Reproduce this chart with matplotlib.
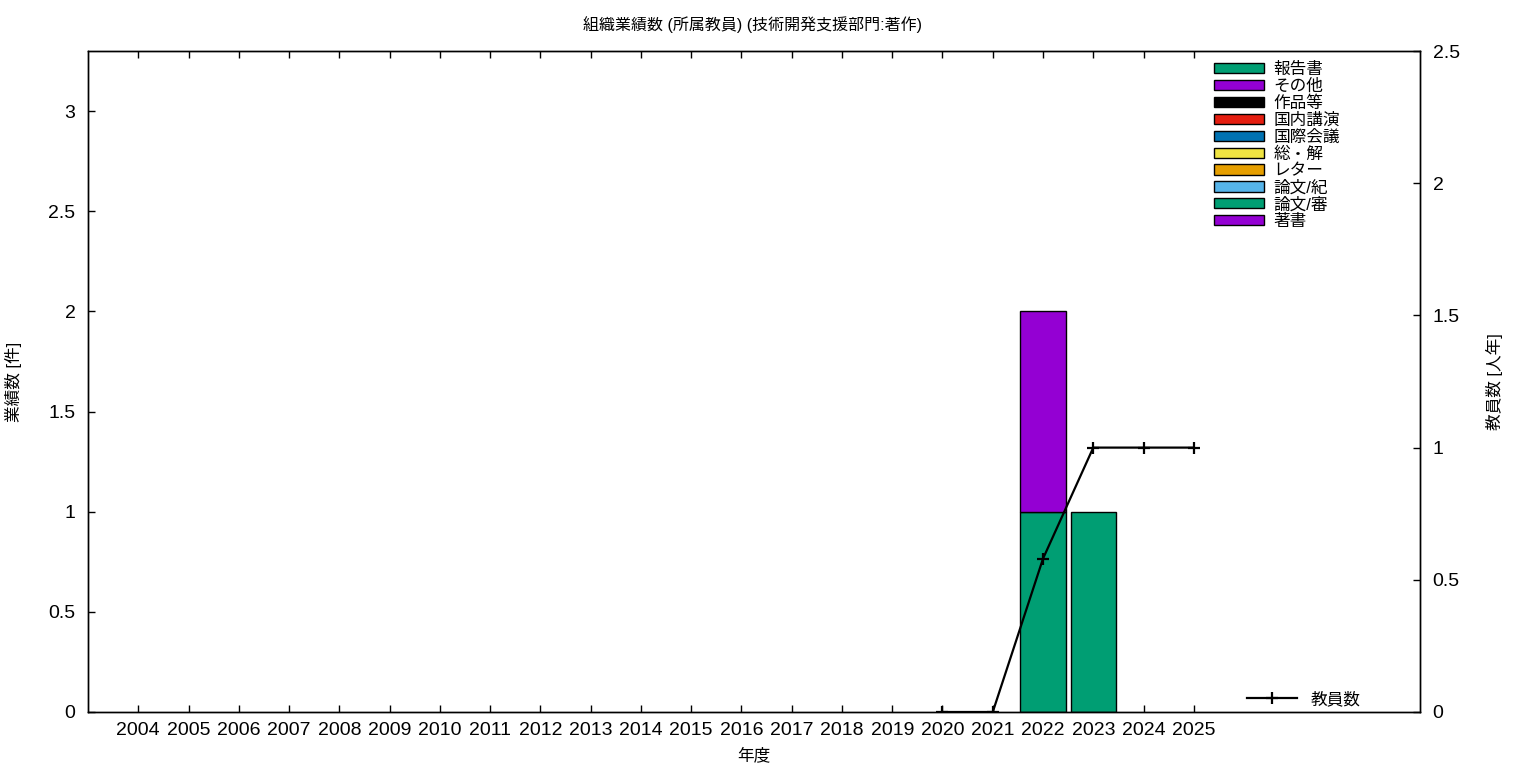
import matplotlib
matplotlib.use("Agg")
import matplotlib.pyplot as plt
import numpy as np

plt.rcParams['font.family'] = ['Liberation Sans', 'Noto Sans CJK JP', 'DejaVu Sans']

years = [str(y) for y in range(2004, 2026)]
categories = ['報告書', 'その他', '作品等', '国内講演', '国際会議', '総・解', 'レター', '論文/紀', '論文/審', '著書']
colors = ['#009E73', '#9400D3', '#000000', '#E51E10', '#0072B2', '#F0E442', '#E69F00', '#56B4E9', '#009E73', '#9400D3']

n = len(years)
report = [0]*18 + [1, 1, 0, 0]
other = [0]*18 + [1, 0, 0, 0]
works = [0]*n
dom_talk = [0]*n
intl_conf = [0]*n
review = [0]*n
letter = [0]*n
paper_bull = [0]*n
paper_ref = [0]*n
books = [0]*n
series = [report, other, works, dom_talk, intl_conf, review, letter, paper_bull, paper_ref, books]

staff_years = ['2020', '2021', '2022', '2023', '2024', '2025']
staff = [0, 0, 0.58, 1, 1, 1]

fig = plt.figure(figsize=(15.36, 7.68), dpi=100)
ax = fig.add_axes([88/1536, 56/768, 1332/1536, 661/768])
ax2 = ax.twinx()

x = np.arange(n)
bottom = np.zeros(n)
handles = []
for vals, c, lab in zip(series, colors, categories):
    v = np.array(vals, dtype=float)
    mask = v > 0
    ax.bar(x[mask], v[mask], width=0.9, bottom=bottom[mask], color=c, edgecolor='black', linewidth=1.0, zorder=2)
    h = ax.bar([0], [0], width=0, color=c, edgecolor='black', linewidth=1.0, label=lab)
    handles.append(h)
    bottom += v

sx = [years.index(y) for y in staff_years]
line, = ax2.plot(sx, staff, color='black', lw=1.6, marker='+', ms=9, mew=1.6, label='教員数', zorder=3)

ax.set_xlim(-1, 25.5)
ax.set_ylim(0, 3.3)
ax2.set_ylim(0, 2.5)
ax.set_xticks(x)
ax.set_xticklabels(years)
ax.set_yticks([0, 0.5, 1, 1.5, 2, 2.5, 3])
ax.set_yticklabels(['0', '0.5', '1', '1.5', '2', '2.5', '3'])
ax2.set_yticks([0, 0.5, 1, 1.5, 2, 2.5])
ax2.set_yticklabels(['0', '0.5', '1', '1.5', '2', '2.5'])

ax.tick_params(axis='x', direction='in', length=5, width=1, top=True, labelsize=14, pad=7)
ax.tick_params(axis='y', direction='in', length=5, width=1, right=False, labelsize=14, pad=9)
ax2.tick_params(axis='y', direction='in', length=5, width=1, labelsize=14, pad=9)
for a in (ax, ax2):
    for s in a.spines.values():
        s.set_linewidth(1.0)

ax.set_xlabel('年度', fontsize=12, labelpad=6)
ax.set_ylabel('業績数 [件]', fontsize=12, labelpad=19)
ax2.set_ylabel('教員数 [人年]', fontsize=12, labelpad=19)
fig.text(0.49, 1 - 25/768, '組織業績数 (所属教員) (技術開発支援部門:著作)', ha='center', va='center', fontsize=11.5)

leg = ax2.legend(handles=handles, labels=categories, loc='upper left', bbox_to_anchor=(0.8393, 0.996),
                 frameon=False, fontsize=12, handlelength=3.0, handleheight=0.55, labelspacing=0.1,
                 handletextpad=0.55, borderpad=0.0)
ax2.add_artist(leg)
ax2.legend(handles=[line], loc='center left', bbox_to_anchor=(0.864, 0.0197), frameon=False, fontsize=12,
           handlelength=3.0, handletextpad=0.8, borderpad=0.0)

fig.savefig('out.png', dpi=100)
